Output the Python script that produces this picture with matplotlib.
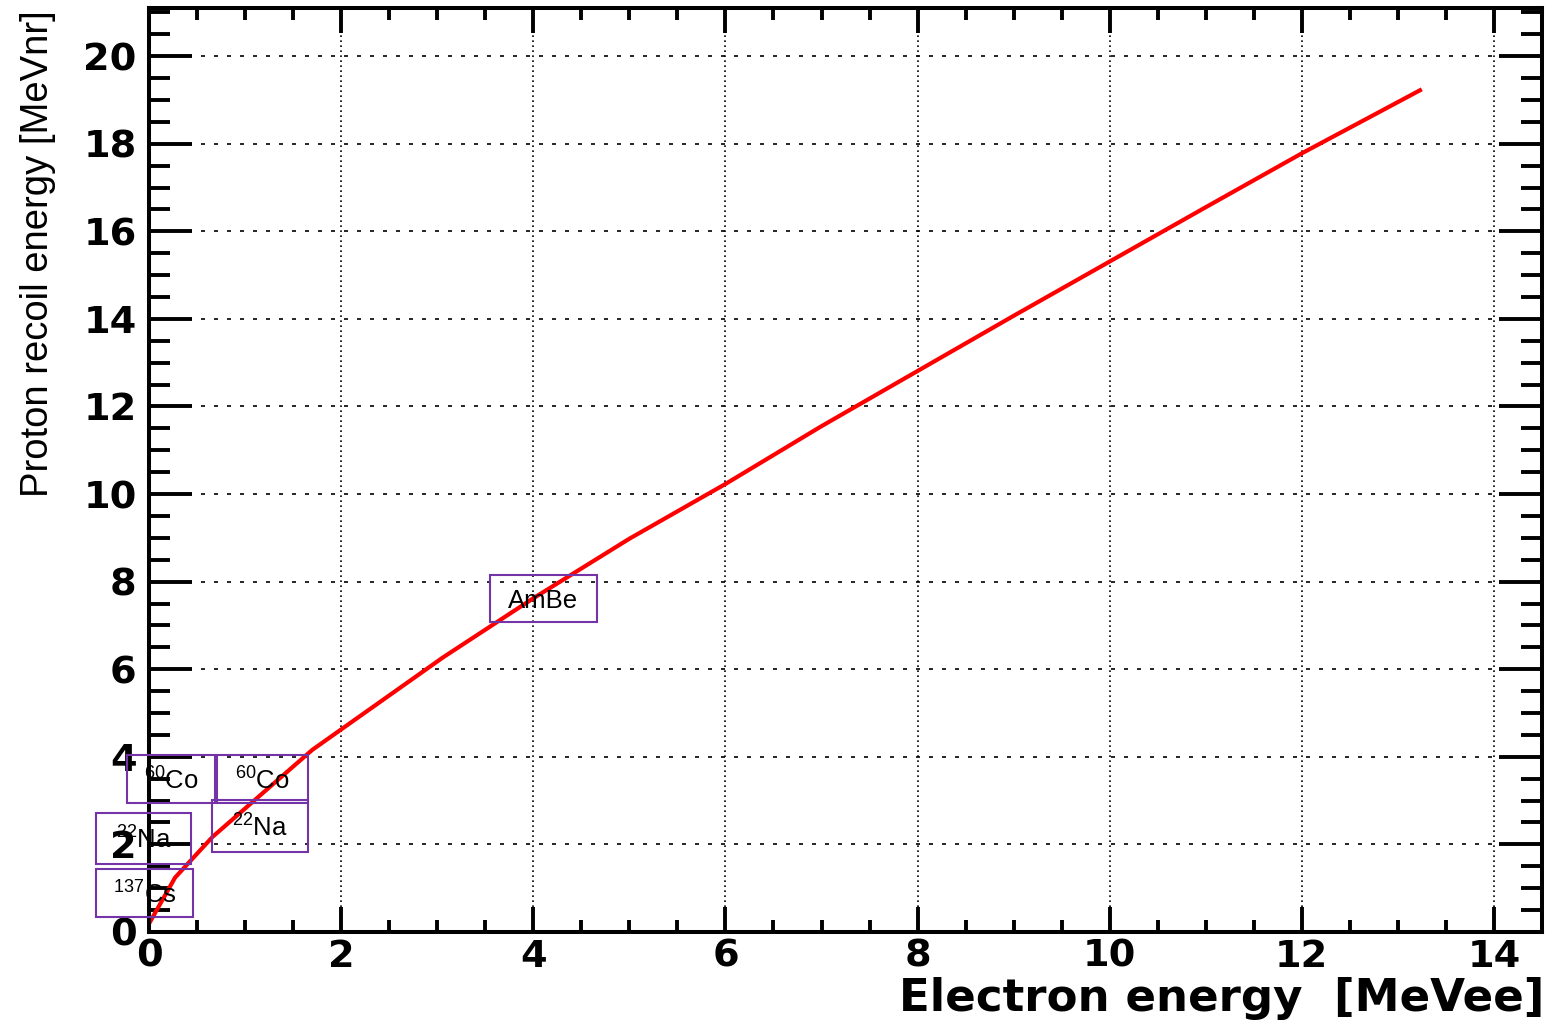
import matplotlib
matplotlib.use("Agg")
import matplotlib.pyplot as plt
from matplotlib import font_manager
from matplotlib.patches import Rectangle
from matplotlib.ticker import MultipleLocator

# light-output calibration curve
electron_mevee = [0.01, 0.27, 0.66, 1.70, 3.06, 4.0, 5.0, 6.0, 7.0, 8.0,
                  9.0, 10.0, 11.0, 12.0, 13.23]
proton_mevnr = [0.23, 1.24, 2.17, 4.16, 6.27, 7.62, 8.98, 10.23, 11.55,
                12.81, 14.07, 15.31, 16.55, 17.78, 19.22]

# calibration source tags
source_names = [r"$^{60}$Co", r"$^{60}$Co", r"$^{22}$Na", r"$^{22}$Na",
                r"$^{137}$Cs", "AmBe"]
box_x = [(-0.23, 0.69), (0.71, 1.65), (-0.55, 0.44), (0.66, 1.65),
         (-0.55, 0.46), (3.55, 4.66)]
box_y = [(2.95, 4.05), (2.95, 4.03), (1.56, 2.72), (1.83, 3.02),
         (0.34, 1.44), (7.07, 8.15)]

x_ticks = [0, 2, 4, 6, 8, 10, 12, 14]
y_ticks = [0, 2, 4, 6, 8, 10, 12, 14, 16, 18, 20]

plt.rcParams["mathtext.fontset"] = "custom"
plt.rcParams["mathtext.rm"] = "Liberation Sans"
plt.rcParams["mathtext.it"] = "Liberation Sans"
plt.rcParams["mathtext.default"] = "rm"

installed = {f.name for f in font_manager.fontManager.ttflist}
narrow = "Liberation Sans Narrow" if "Liberation Sans Narrow" in installed else "Liberation Sans"

fig = plt.figure(figsize=(15.48, 10.21), dpi=100)
ax = fig.add_axes([0.0963, 0.0872, 0.8998, 0.905])

ax.plot(electron_mevee, proton_mevnr, color="#ff0000", linewidth=3.0,
        solid_joinstyle="miter", zorder=2)

ax.set_xlim(0, 14.5)
ax.set_ylim(0, 21.1)
ax.set_xticks(x_ticks)
ax.set_yticks(y_ticks)
ax.xaxis.set_minor_locator(MultipleLocator(0.5))
ax.yaxis.set_minor_locator(MultipleLocator(0.5))

ax.set_axisbelow(True)
ax.grid(True, which="major", axis="x", color="black",
        linestyle=(0, (1.0, 2.0)), linewidth=1.2)
ax.grid(True, which="major", axis="y", color="black",
        linestyle=(0, (2.4, 5.4)), linewidth=1.2)

for sp in ax.spines.values():
    sp.set_linewidth(2.9)

ax.tick_params(which="both", direction="in", top=True, right=True, width=2.8)
ax.tick_params(axis="x", which="major", length=18, pad=5)
ax.tick_params(axis="x", which="minor", length=8.6)
ax.tick_params(axis="y", which="major", length=31, pad=9)
ax.tick_params(axis="y", which="minor", length=15)
for lab in ax.get_xticklabels() + ax.get_yticklabels():
    lab.set_family("DejaVu Sans")
    lab.set_fontweight("bold")
    lab.set_fontsize(27.5)

for name, (x0, x1), (y0, y1) in zip(source_names, box_x, box_y):
    ax.add_patch(Rectangle((x0, y0), x1 - x0, y1 - y0, fill=False,
                           edgecolor="#7434a8", linewidth=1.5,
                           clip_on=False, zorder=3))
    ax.text((x0 + x1) / 2, (y0 + y1) / 2 - 0.05, name, ha="center",
            va="center", family="Liberation Sans", fontsize=18.5, zorder=4,
            clip_on=False)

ax.text(1.002, -0.072, "Electron energy  [MeVee]", transform=ax.transAxes,
        ha="right", va="center", family="DejaVu Sans", fontweight="bold",
        fontsize=32.5)
ax.text(-0.08, 0.998, "Proton recoil energy [MeVnr]", transform=ax.transAxes,
        rotation=90, ha="center", va="top", family=narrow, fontsize=27.5)

fig.savefig("out.png", dpi=100)
